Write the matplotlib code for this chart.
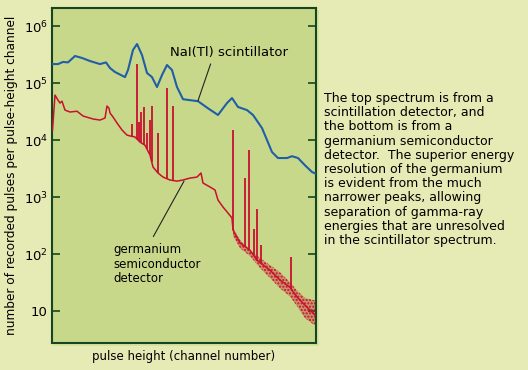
import numpy as np
import matplotlib
matplotlib.use("Agg")
import matplotlib.pyplot as plt
from matplotlib.patches import Rectangle

# NaI(Tl) scintillator spectrum (channel, counts)
nai_ch = [0, 48, 88, 128, 184, 240, 304, 384, 432, 464, 504, 584, 608, 648, 680,
          720, 760, 800, 840, 880, 920, 960, 1000, 1048, 1104, 1168, 1248, 1328,
          1400, 1440, 1488, 1560, 1608, 1680, 1720, 1760, 1808, 1880, 1920, 1968,
          2024, 2080, 2104]
nai_counts = [2.15e5, 2.15e5, 2.34e5, 2.3e5, 2.98e5, 2.75e5, 2.43e5, 2.15e5, 2.3e5,
              1.83e5, 1.56e5, 1.27e5, 1.69e5, 3.8e5, 4.83e5, 3.1e5, 1.5e5, 1.27e5,
              8.5e4, 1.38e5, 2.07e5, 1.69e5, 8.5e4, 5.2e4, 5.0e4, 4.8e4, 3.6e4,
              2.75e4, 4.45e4, 5.45e4, 3.8e4, 3.35e4, 2.75e4, 1.62e4, 1.0e4, 6.15e3,
              4.83e3, 4.83e3, 5.2e3, 4.83e3, 3.6e3, 2.75e3, 2.6e3]

# germanium detector continuum (channel, counts)
ge_ch = [4, 24, 48, 64, 80, 104, 144, 200, 248, 328, 384, 424, 440, 456, 464, 488,
         520, 560, 600, 624, 664, 704, 744, 784, 808, 848, 888, 944, 1000, 1048,
         1104, 1160, 1192, 1208, 1264, 1304, 1328, 1368, 1408, 1440, 1448, 1504,
         1584, 1640, 1744, 1824, 1904, 1960, 2040, 2088, 2104]
ge_counts = [1.5e4, 6.15e4, 5.0e4, 4.45e4, 4.8e4, 3.35e4, 3.1e4, 3.2e4, 2.64e4,
             2.34e4, 2.24e4, 2.43e4, 3.95e4, 3.6e4, 2.98e4, 2.54e4, 1.99e4, 1.5e4,
             1.22e4, 1.18e4, 1.13e4, 9.2e3, 8.1e3, 5.45e3, 3.36e3, 2.64e3, 2.24e3,
             1.99e3, 1.9e3, 1.99e3, 2.15e3, 2.24e3, 2.64e3, 1.76e3, 1.5e3, 1.33e3,
             885, 668, 524, 428, 264, 156, 117, 78, 52, 35, 26, 17.6, 11.7, 9.2, 8.5]

# germanium photopeaks (channel, peak counts)
peak_ch = [640, 680, 696, 712, 736, 760, 784, 800, 848, 920, 968,
           1448, 1544, 1576, 1616, 1640, 1672, 1912]
peak_counts = [1.9e4, 2.15e5, 2.07e4, 3.1e4, 3.8e4, 1.33e4, 2.24e4, 3.95e4, 1.33e4,
               8.2e4, 3.95e4, 1.5e4, 2.15e3, 6.7e3, 275, 615, 144, 88]

# scatter of the high-channel tail (channel, low, high)
tail_ch = [1448, 1504, 1584, 1664, 1744, 1824, 1904, 1960, 2024, 2088, 2104]
tail_low = [207, 127, 92, 57, 38, 25, 18, 12.2, 7.5, 5.9, 5.7]
tail_high = [286, 176, 117, 85, 64, 48, 32, 23, 16.9, 15.6, 15.6]

ytick_vals = [10, 1e2, 1e3, 1e4, 1e5, 1e6]
ytick_labels = ['10', '$10^2$', '$10^3$', '$10^4$', '$10^5$', '$10^6$']

bg = '#e6eab4'
face = '#c8d88a'
dark = '#17451f'
red = '#c8102e'
blue = '#1f5ea8'

plt.rcParams['font.family'] = ['DejaVu Sans']
plt.rcParams['mathtext.default'] = 'regular'

fig = plt.figure(figsize=(5.28, 3.70), dpi=100, facecolor=bg)

# light edge below / right of the frame
fig.patches.append(Rectangle((54 / 528, 1 - 346 / 370), 265 / 528, 336 / 370,
                             transform=fig.transFigure, facecolor='#d3e3a0',
                             edgecolor='none', zorder=-1))

ax = fig.add_axes([52 / 528, 1 - 343 / 370, 264 / 528, 335 / 370])
ax.set_zorder(2)
ax.set_facecolor(face)

ax.set_yscale('log')
ax.set_xlim(0, 2112)
ax.set_ylim(2.75, 2.07e6)

ax.plot(nai_ch, nai_counts, color=blue, lw=1.5, zorder=3)
ax.plot(ge_ch, ge_counts, color=red, lw=1.1, zorder=3)
base = np.interp(peak_ch, ge_ch, ge_counts)
ax.vlines(peak_ch, base, peak_counts, color=red, lw=1.3, zorder=3)
ax.fill_between(tail_ch, tail_low, tail_high, facecolor=red, alpha=0.35,
                edgecolor='none', zorder=2)
ax.fill_between(tail_ch, tail_low, tail_high, facecolor='none', hatch='.....',
                edgecolor=red, lw=0, zorder=2)

ax.set_yticks(ytick_vals)
ax.set_yticklabels(ytick_labels)
ax.yaxis.set_minor_locator(matplotlib.ticker.NullLocator())
ax.set_xticks([])
ax.tick_params(axis='y', direction='in', length=6, width=1.2, color=dark,
               right=True, labelsize=9.5, pad=3)
for s in ax.spines.values():
    s.set_color(dark)
    s.set_linewidth(1.5)

ax.set_xlabel('pulse height (channel number)', fontsize=8.5, labelpad=5)
ax.set_ylabel('number of recorded pulses per pulse-height channel', fontsize=8.7,
              labelpad=4)

ax.annotate('NaI(Tl) scintillator', xy=(1168, 4.9e4), xytext=(944, 3.5e5),
            fontsize=9.5, ha='left', va='center',
            arrowprops=dict(arrowstyle='-', color='#222222', lw=0.8,
                            shrinkA=2, shrinkB=0, relpos=(0.36, 0.0)))
ax.annotate('germanium\nsemiconductor\ndetector', xy=(1056, 1.9e3),
            xytext=(488, 156), fontsize=8.5, ha='left', va='top',
            linespacing=1.15,
            arrowprops=dict(arrowstyle='-', color='#222222', lw=0.8,
                            shrinkA=3, shrinkB=0, relpos=(0.42, 1.0)))

note = ("The top spectrum is from a\nscintillation detector, and\n"
        "the bottom is from a\ngermanium semiconductor\n"
        "detector.  The superior energy\nresolution of the germanium\n"
        "is evident from the much\nnarrower peaks, allowing\n"
        "separation of gamma-ray\nenergies that are unresolved\n"
        "in the scintillator spectrum.")
fig.text(324 / 528, 1 - 92 / 370, note, fontsize=9, ha='left', va='top',
         linespacing=1.12)

fig.savefig('out.png', dpi=100, facecolor=bg)
